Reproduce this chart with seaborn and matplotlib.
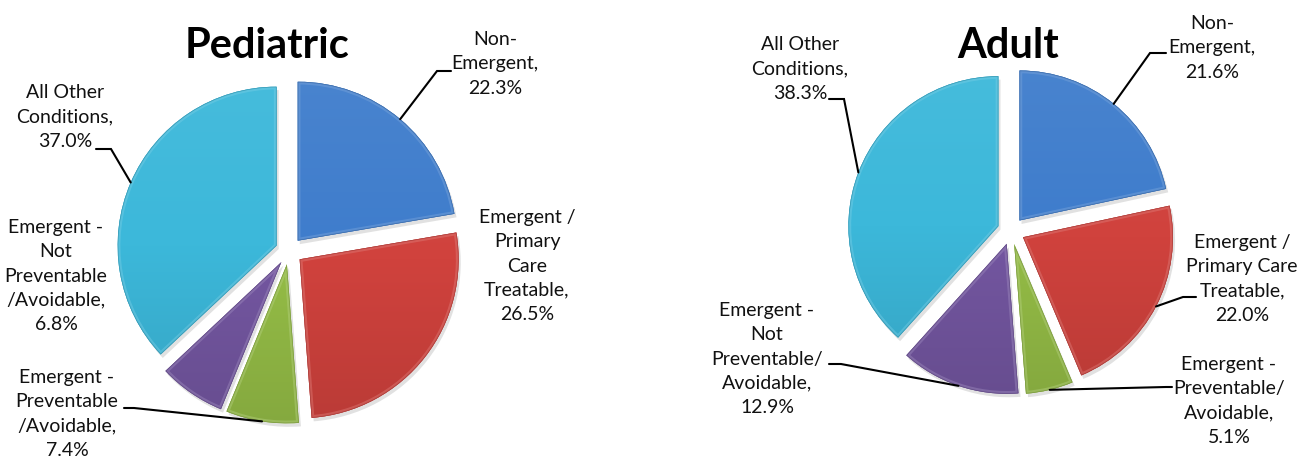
import numpy as np
import matplotlib
matplotlib.use("Agg")
import matplotlib.pyplot as plt
import matplotlib.patheffects as pe
from matplotlib.patches import Wedge
from matplotlib.colors import LinearSegmentedColormap, to_rgb
import seaborn as sns

# ---- data ----
categories = [
    "Non-Emergent",
    "Emergent / Primary Care Treatable",
    "Emergent - Preventable/Avoidable",
    "Emergent - Not Preventable/Avoidable",
    "All Other Conditions",
]
pediatric_values = [22.3, 26.5, 7.4, 6.8, 37.0]
adult_values = [21.6, 22.0, 5.1, 12.9, 38.3]

pediatric_labels = [
    "Non-\nEmergent,",
    "Emergent /\nPrimary\nCare\nTreatable,",
    "Emergent -\nPreventable\n/Avoidable,",
    "Emergent -\nNot\nPreventable\n/Avoidable,",
    "All Other\nConditions,",
]
adult_labels = [
    "Non-\nEmergent,",
    "Emergent /\nPrimary Care\nTreatable,",
    "Emergent -\nPreventable/\nAvoidable,",
    "Emergent -\nNot\nPreventable/\nAvoidable,",
    "All Other\nConditions,",
]
titles = ["Pediatric", "Adult"]

# ---- styling ----
sns.set_theme(style="white")
plt.rcParams["font.family"] = ["Lato", "DejaVu Sans"]

palette = ["#3f7dcc", "#d0423d", "#94bc46", "#7356a0", "#3cb8da"]

W, H = 1298, 463
fig = plt.figure(figsize=(W / 100, H / 100), dpi=100)
ax = fig.add_axes([0, 0, 1, 1])


def py(y):
    """Convert a top-down pixel row into the upward data axis."""
    return H - y


# pie placement (center x, center y from top, radius, explode offset)
pies = [
    dict(cx=289, cy=251, r=159, off=13.5),
    dict(cx=1011, cy=231, r=150, off=13.5),
]
title_pos = [(267, 46), (1008, 46)]

# label text centres and optional leader (elbow, end) points
pediatric_layout = [
    dict(pos=(495, 64), elbow=(437, 71), end=(451, 71)),
    dict(pos=(527, 266), elbow=None, end=None),
    dict(pos=(67, 414), elbow=(134, 408), end=(124, 408)),
    dict(pos=(56, 276), elbow=None, end=None),
    dict(pos=(65, 117), elbow=(111, 149), end=(96, 149)),
]
adult_layout = [
    dict(pos=(1212, 48), elbow=(1150, 53), end=(1166, 53)),
    dict(pos=(1242, 279), elbow=(1183, 297), end=(1196, 297)),
    dict(pos=(1229, 401), elbow=(1166, 387), end=(1172, 387)),
    dict(pos=(767, 359), elbow=(841, 364), end=(829, 364)),
    dict(pos=(800, 69), elbow=(844, 99), end=(829, 99)),
]


def shade(color, f):
    c = np.array(to_rgb(color))
    if f >= 0:
        return tuple(c + (1 - c) * f)
    return tuple(c * (1 + f))


def draw_pie(values, labels, layout, geo):
    wedges, _ = ax.pie(
        values,
        colors=palette,
        startangle=90,
        counterclock=False,
        radius=geo["r"],
        center=(geo["cx"], py(geo["cy"])),
        explode=[geo["off"]] * len(values),
        wedgeprops=dict(linewidth=0),
    )
    for w, col in zip(wedges, palette):
        w.set_path_effects([
            pe.SimplePatchShadow(offset=(1.5, -2.5), shadow_rgbFace="#777777", alpha=0.22),
            pe.Normal(),
        ])
        cx, cy = w.center
        r = w.r
        # soft top-to-bottom gradient across the face
        cmap = LinearSegmentedColormap.from_list(
            "g", [shade(col, -0.10), col, shade(col, 0.05)]
        )
        grad = np.linspace(0, 1, 256).reshape(-1, 1)
        im = ax.imshow(grad, cmap=cmap, extent=(cx - r, cx + r, cy - r, cy + r),
                       origin="lower", aspect="auto", zorder=w.get_zorder() + 0.1,
                       interpolation="bilinear")
        im.set_clip_path(w)
        # bevel rim: light inner edge and a faint darker outline
        rim = Wedge((cx, cy), r, w.theta1, w.theta2, facecolor="none",
                    edgecolor=shade(col, 0.30), linewidth=4, alpha=0.45,
                    zorder=w.get_zorder() + 0.2)
        ax.add_patch(rim)
        rim.set_clip_path(w)
        edge = Wedge((cx, cy), r, w.theta1, w.theta2, facecolor="none",
                     edgecolor=shade(col, -0.30), linewidth=1.0, alpha=0.6,
                     zorder=w.get_zorder() + 0.3)
        ax.add_patch(edge)
        edge.set_clip_path(w)

    for w, lab, val, lay in zip(wedges, labels, values, layout):
        x, y = lay["pos"]
        ax.text(x, py(y), f"{lab}\n{val:.1f}%", ha="center", va="center",
                multialignment="center", fontsize=14, linespacing=1.52,
                color="#111111", zorder=10)
        if lay["elbow"] is not None:
            tm = np.deg2rad(0.5 * (w.theta1 + w.theta2))
            cx, cy = w.center
            arc_pt = (cx + w.r * np.cos(tm), cy + w.r * np.sin(tm))
            ex, ey = lay["elbow"]
            hx, _ = lay["end"]
            ax.plot([arc_pt[0], ex, hx], [arc_pt[1], py(ey), py(ey)],
                    color="black", linewidth=1.5, zorder=9,
                    solid_joinstyle="miter")


draw_pie(pediatric_values, pediatric_labels, pediatric_layout, pies[0])
draw_pie(adult_values, adult_labels, adult_layout, pies[1])

for t, (tx, ty) in zip(titles, title_pos):
    ax.text(tx, py(ty), t, ha="center", va="center", fontsize=30,
            fontweight="bold", color="black", zorder=10)

ax.set_xlim(0, W)
ax.set_ylim(0, H)
ax.set_aspect("auto")
ax.axis("off")

fig.savefig("out.png", dpi=100, facecolor="white")
